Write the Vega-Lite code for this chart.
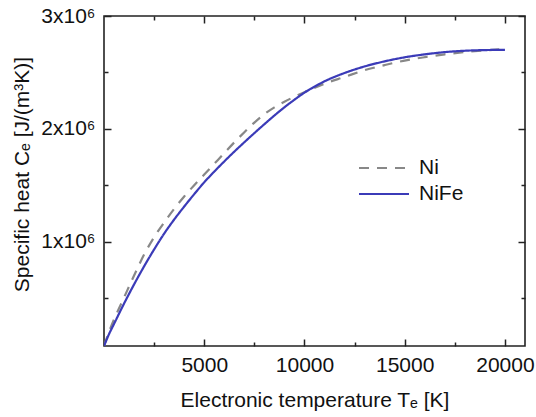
{
  "$schema": "https://vega.github.io/schema/vega-lite/v6.json",
  "width": 421,
  "height": 330,
  "autosize": {"type": "none"},
  "padding": {"left": 104, "top": 16, "right": 11, "bottom": 71},
  "background": "white",
  "config": {
    "font": "Liberation Sans",
    "view": {"stroke": "#222222", "strokeWidth": 1.6},
    "axis": {"grid": false, "domain": false, "labelFont": "Liberation Sans", "titleFont": "Liberation Sans", "labelColor": "#111111", "titleColor": "#111111", "titleFontWeight": "normal", "labelFontSize": 21, "titleFontSize": 21, "tickColor": "#222222", "tickWidth": 1.5}
  },
  "data": {
    "values": [
      {"T": 0, "C": 75000, "series": "Ni"},
      {"T": 250, "C": 200000, "series": "Ni"},
      {"T": 500, "C": 310000, "series": "Ni"},
      {"T": 1000, "C": 505000, "series": "Ni"},
      {"T": 1500, "C": 700000, "series": "Ni"},
      {"T": 2000, "C": 885000, "series": "Ni"},
      {"T": 2500, "C": 1040000, "series": "Ni"},
      {"T": 3000, "C": 1170000, "series": "Ni"},
      {"T": 3500, "C": 1290000, "series": "Ni"},
      {"T": 4000, "C": 1400000, "series": "Ni"},
      {"T": 4500, "C": 1500000, "series": "Ni"},
      {"T": 5000, "C": 1595000, "series": "Ni"},
      {"T": 5500, "C": 1690000, "series": "Ni"},
      {"T": 6000, "C": 1785000, "series": "Ni"},
      {"T": 6500, "C": 1880000, "series": "Ni"},
      {"T": 7000, "C": 1970000, "series": "Ni"},
      {"T": 7500, "C": 2055000, "series": "Ni"},
      {"T": 8000, "C": 2130000, "series": "Ni"},
      {"T": 8500, "C": 2190000, "series": "Ni"},
      {"T": 9000, "C": 2240000, "series": "Ni"},
      {"T": 9500, "C": 2285000, "series": "Ni"},
      {"T": 10000, "C": 2325000, "series": "Ni"},
      {"T": 11000, "C": 2400000, "series": "Ni"},
      {"T": 12000, "C": 2460000, "series": "Ni"},
      {"T": 13000, "C": 2520000, "series": "Ni"},
      {"T": 14000, "C": 2565000, "series": "Ni"},
      {"T": 15000, "C": 2605000, "series": "Ni"},
      {"T": 16000, "C": 2635000, "series": "Ni"},
      {"T": 17000, "C": 2660000, "series": "Ni"},
      {"T": 18000, "C": 2680000, "series": "Ni"},
      {"T": 19000, "C": 2695000, "series": "Ni"},
      {"T": 20000, "C": 2708000, "series": "Ni"},
      {"T": 0, "C": 75000, "series": "NiFe"},
      {"T": 250, "C": 180000, "series": "NiFe"},
      {"T": 500, "C": 271000, "series": "NiFe"},
      {"T": 1000, "C": 451000, "series": "NiFe"},
      {"T": 1500, "C": 621000, "series": "NiFe"},
      {"T": 2000, "C": 781000, "series": "NiFe"},
      {"T": 2500, "C": 931000, "series": "NiFe"},
      {"T": 3000, "C": 1071000, "series": "NiFe"},
      {"T": 3500, "C": 1196000, "series": "NiFe"},
      {"T": 4000, "C": 1311000, "series": "NiFe"},
      {"T": 4500, "C": 1421000, "series": "NiFe"},
      {"T": 5000, "C": 1526000, "series": "NiFe"},
      {"T": 5500, "C": 1621000, "series": "NiFe"},
      {"T": 6000, "C": 1711000, "series": "NiFe"},
      {"T": 6500, "C": 1798000, "series": "NiFe"},
      {"T": 7000, "C": 1881000, "series": "NiFe"},
      {"T": 7500, "C": 1962000, "series": "NiFe"},
      {"T": 8000, "C": 2041000, "series": "NiFe"},
      {"T": 8500, "C": 2118000, "series": "NiFe"},
      {"T": 9000, "C": 2191000, "series": "NiFe"},
      {"T": 9500, "C": 2258000, "series": "NiFe"},
      {"T": 10000, "C": 2321000, "series": "NiFe"},
      {"T": 10500, "C": 2374000, "series": "NiFe"},
      {"T": 11000, "C": 2421000, "series": "NiFe"},
      {"T": 12000, "C": 2495000, "series": "NiFe"},
      {"T": 13000, "C": 2553000, "series": "NiFe"},
      {"T": 14000, "C": 2598000, "series": "NiFe"},
      {"T": 15000, "C": 2634000, "series": "NiFe"},
      {"T": 16000, "C": 2660000, "series": "NiFe"},
      {"T": 17000, "C": 2680000, "series": "NiFe"},
      {"T": 18000, "C": 2692000, "series": "NiFe"},
      {"T": 19000, "C": 2698000, "series": "NiFe"},
      {"T": 20000, "C": 2700000, "series": "NiFe"}
    ]
  },
  "resolve": {"axis": {"x": "independent", "y": "independent"}},
  "layer": [
    {
      "mark": {"type": "line", "strokeWidth": 2.2, "clip": true, "interpolate": "monotone"},
      "encoding": {
        "x": {"field": "T", "type": "quantitative", "scale": {"domain": [0, 21000], "nice": false, "zero": false},
          "axis": {"orient": "bottom", "ticks": false, "values": [5000, 10000, 15000, 20000], "format": "d", "labelPadding": 8, "title": "Electronic temperature Tₑ [K]", "titleY": 60, "titleBaseline": "alphabetic"}},
        "y": {"field": "C", "type": "quantitative", "scale": {"domain": [75000, 3000000], "nice": false, "zero": false},
          "axis": {"orient": "left", "ticks": false, "values": [1000000, 2000000, 3000000], "labelExpr": "format(datum.value/1000000, 'd') + 'x10⁶'", "labelPadding": 9, "labelBaseline": "middle", "title": "Specific heat Cₑ [J/(m³K)]", "titleX": -82, "titleY": 158, "titleBaseline": "middle"}},
        "color": {"field": "series", "type": "nominal", "scale": {"domain": ["Ni", "NiFe"], "range": ["#888888", "#3b3bb8"]},
          "legend": {"title": null, "orient": "none", "legendX": 266, "legendY": 138, "symbolType": "M-2,0H2", "symbolSize": 625, "symbolStrokeWidth": 2.2, "symbolFillColor": "transparent", "labelFontSize": 21, "labelFont": "Liberation Sans", "labelColor": "#111111", "labelOffset": 21, "rowPadding": 2}},
        "strokeDash": {"field": "series", "type": "nominal", "scale": {"domain": ["Ni", "NiFe"], "range": [[10, 8], [1, 0]]}, "legend": null}
      }
    },
    {
      "mark": {"type": "point", "opacity": 0},
      "encoding": {
        "x": {"field": "T", "type": "quantitative", "axis": {"orient": "bottom", "labels": false, "title": null, "tickSize": -7, "values": [5000, 10000, 15000, 20000]}},
        "y": {"field": "C", "type": "quantitative", "axis": {"orient": "left", "labels": false, "title": null, "tickSize": -7, "values": [1000000, 2000000, 3000000]}}
      }
    },
    {
      "mark": {"type": "point", "opacity": 0},
      "encoding": {
        "x": {"field": "T", "type": "quantitative", "axis": {"orient": "bottom", "labels": false, "title": null, "tickSize": -4, "values": [2500, 7500, 12500, 17500]}},
        "y": {"field": "C", "type": "quantitative", "axis": {"orient": "left", "labels": false, "title": null, "tickSize": -4, "values": [500000, 1500000, 2500000]}}
      }
    },
    {
      "mark": {"type": "point", "opacity": 0},
      "encoding": {
        "x": {"field": "T", "type": "quantitative", "axis": {"orient": "top", "labels": false, "title": null, "tickSize": -7, "values": [5000, 10000, 15000, 20000]}},
        "y": {"field": "C", "type": "quantitative", "axis": {"orient": "right", "labels": false, "title": null, "tickSize": -7, "values": [1000000, 2000000, 3000000]}}
      }
    },
    {
      "mark": {"type": "point", "opacity": 0},
      "encoding": {
        "x": {"field": "T", "type": "quantitative", "axis": {"orient": "top", "labels": false, "title": null, "tickSize": -4, "values": [2500, 7500, 12500, 17500]}},
        "y": {"field": "C", "type": "quantitative", "axis": {"orient": "right", "labels": false, "title": null, "tickSize": -4, "values": [500000, 1500000, 2500000]}}
      }
    }
  ]
}
